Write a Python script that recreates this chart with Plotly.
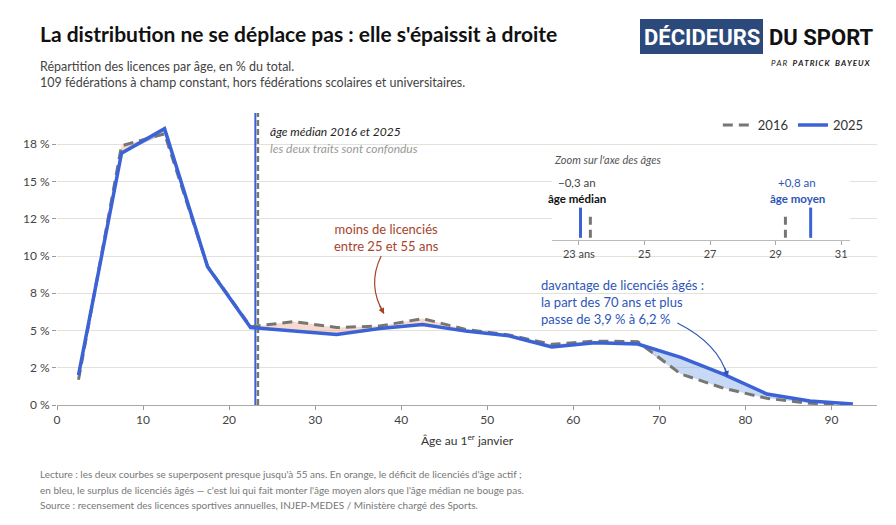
import plotly.graph_objects as go

# tranches d'âge (milieu de classe quinquennale)
ages = [2.5, 7.5, 12.5, 17.5, 22.5, 27.5, 32.5, 37.5, 42.5, 47.5,
        52.5, 57.5, 62.5, 67.5, 72.5, 77.5, 82.5, 87.5, 92.5]
part_2016 = [1.7, 17.4, 18.2, 9.3, 5.25, 5.6, 5.2, 5.3, 5.8, 5.07,
             4.7, 4.07, 4.29, 4.25, 2.08, 1.12, 0.45, 0.11, 0.05]
part_2025 = [2.0, 16.9, 18.55, 9.28, 5.2, 4.96, 4.74, 5.14, 5.41, 4.96,
             4.65, 3.89, 4.18, 4.09, 3.2, 2.06, 0.74, 0.27, 0.07]

median_2016 = 23.35
median_2025 = 23.05
mean_2016 = 29.3
mean_2025 = 30.07

y_tickvals = [0, 2.5, 5, 7.5, 10, 12.5, 15, 17.5]
y_ticktext = ["0 %", "2 %", "5 %", "8 %", "10 %", "12 %", "15 %", "18 %"]
x_tickvals = [0, 10, 20, 30, 40, 50, 60, 70, 80, 90]
zoom_tickvals = [23, 25, 27, 29, 31]
zoom_ticktext = ["23 ans", "25", "27", "29", "31"]

footer_lines = [
    "Lecture : les deux courbes se superposent presque jusqu'à 55 ans. En orange, le déficit de licenciés d'âge actif ;",
    "en bleu, le surplus de licenciés âgés — c'est lui qui fait monter l'âge moyen alors que l'âge médian ne bouge pas.",
    "Source : recensement des licences sportives annuelles, INJEP-MEDES / Ministère chargé des Sports.",
]

BLUE = "#3b63d6"
GREY = "#777772"
RUST = "#a8432b"
DARKBLUE = "#2d56b8"
FONT = "Lato, 'Noto Sans', sans-serif"
LOGO_FONT = "Roboto, 'Open Sans', sans-serif"

# page body has an 8px margin -> figure is drawn 8px right/down
OFF = 8

# pixel (page) -> paper helpers (plot area 57..877 x 113..405)
def px(x):
    return (x - 57) / 820.0

def py(y):
    return (405 - y) / 292.0

low = [min(a, b) for a, b in zip(part_2016, part_2025)]

fig = go.Figure()

# zones colorées
fig.add_trace(go.Scatter(x=ages, y=low, mode="lines", line=dict(width=0),
                         showlegend=False, hoverinfo="skip"))
fig.add_trace(go.Scatter(x=ages, y=part_2016, mode="lines", line=dict(width=0),
                         fill="tonexty", fillcolor="rgba(240,170,145,0.45)",
                         showlegend=False, hoverinfo="skip"))
fig.add_trace(go.Scatter(x=ages, y=low, mode="lines", line=dict(width=0),
                         showlegend=False, hoverinfo="skip"))
fig.add_trace(go.Scatter(x=ages, y=part_2025, mode="lines", line=dict(width=0),
                         fill="tonexty", fillcolor="rgba(110,155,230,0.38)",
                         showlegend=False, hoverinfo="skip"))

# médianes (axe principal)
fig.add_trace(go.Scatter(x=[median_2016, median_2016], y=[0, 19.6], mode="lines",
                         line=dict(color=GREY, width=2.5, dash="6px,3px"),
                         showlegend=False, hoverinfo="skip"))
fig.add_trace(go.Scatter(x=[median_2025, median_2025], y=[0, 19.6], mode="lines",
                         line=dict(color=BLUE, width=2),
                         showlegend=False, hoverinfo="skip"))

# courbes
fig.add_trace(go.Scatter(x=ages, y=part_2016, mode="lines", name="2016",
                         line=dict(color=GREY, width=3, dash="10px,6px")))
fig.add_trace(go.Scatter(x=ages, y=part_2025, mode="lines", name="2025",
                         line=dict(color=BLUE, width=3.5)))

# encart zoom
fig.add_trace(go.Scatter(x=[median_2025, median_2025], y=[0.03, 0.45], mode="lines",
                         line=dict(color=BLUE, width=3), xaxis="x2", yaxis="y2",
                         showlegend=False, hoverinfo="skip"))
fig.add_trace(go.Scatter(x=[median_2016, median_2016], y=[0.03, 0.36], mode="lines",
                         line=dict(color=GREY, width=3, dash="8px,5px"), xaxis="x2", yaxis="y2",
                         showlegend=False, hoverinfo="skip"))
fig.add_trace(go.Scatter(x=[mean_2016, mean_2016], y=[0.03, 0.36], mode="lines",
                         line=dict(color=GREY, width=3, dash="8px,5px"), xaxis="x2", yaxis="y2",
                         showlegend=False, hoverinfo="skip"))
fig.add_trace(go.Scatter(x=[mean_2025, mean_2025], y=[0.03, 0.45], mode="lines",
                         line=dict(color=BLUE, width=3), xaxis="x2", yaxis="y2",
                         showlegend=False, hoverinfo="skip"))

fig.update_layout(
    width=896 - OFF, height=525 - OFF,
    margin=dict(l=57 - OFF, r=19, t=113 - OFF, b=120),
    paper_bgcolor="white", plot_bgcolor="white",
    font=dict(family=FONT, size=12, color="#444"),
    showlegend=True,
    legend=dict(orientation="h", x=0.99, xanchor="right", y=py(125), yanchor="middle",
                font=dict(size=13, color="#333"), bgcolor="rgba(0,0,0,0)",
                traceorder="normal", itemwidth=30),
    xaxis=dict(range=[0, 95.3], tickvals=x_tickvals, ticks="outside", ticklen=4,
               tickcolor="#999", showline=True, linecolor="#aaa", linewidth=1,
               showgrid=False, zeroline=False, tickfont=dict(size=12, color="#444")),
    yaxis=dict(range=[0, 19.6], tickvals=y_tickvals, ticktext=y_ticktext,
               ticks="outside", ticklen=4, tickcolor="#999", showline=False,
               showgrid=True, gridcolor="#e4e1d9", gridwidth=1, zeroline=False,
               tickfont=dict(size=12, color="#444")),
    xaxis2=dict(domain=[px(552), px(850)], anchor="y2", range=[22.18, 31.27],
                tickvals=zoom_tickvals, ticktext=zoom_ticktext, ticks="outside",
                ticklen=4, tickcolor="#aaa", showline=True, linecolor="#bbb",
                showgrid=False, zeroline=False, tickfont=dict(size=11, color="#444")),
    yaxis2=dict(domain=[py(240), py(168)], anchor="x2", range=[0, 1], visible=False),
)

# fond de l'encart
fig.add_shape(type="rect", xref="x2 domain", yref="y2 domain", x0=0, x1=1, y0=0, y1=1,
              fillcolor="#f2f2ee", line=dict(width=0), layer="below")

# logo
fig.add_shape(type="rect", xref="paper", yref="paper", x0=px(640), x1=px(763),
              y0=py(54), y1=py(19), fillcolor="#2b4a7b", line=dict(width=0))

ann = [
    dict(x=px(38), y=py(34), text="<b>La distribution ne se déplace pas : elle s'épaissit à droite</b>",
         xanchor="left", yanchor="middle", font=dict(size=21, color="#111")),
    dict(x=px(38), y=py(57), text="Répartition des licences par âge, en % du total.<br>"
         "109 fédérations à champ constant, hors fédérations scolaires et universitaires.",
         xanchor="left", yanchor="top", align="left", font=dict(size=12.5, color="#444")),
    dict(x=px(701.5), y=py(37), text="<b>DÉCIDEURS</b>", xanchor="center", yanchor="middle",
         font=dict(size=22, color="white", family=LOGO_FONT)),
    dict(x=px(767), y=py(37), text="<b>DU SPORT</b>", xanchor="left", yanchor="middle",
         font=dict(size=22, color="#111", family=LOGO_FONT)),
    dict(x=px(872), y=py(63), text="<i>P\u2009A\u2009R\u2003<b>P\u2009A\u2009T\u2009R\u2009I\u2009C\u2009K\u2003B\u2009A\u2009Y\u2009E\u2009U\u2009X</b></i>",
         xanchor="right", yanchor="middle", font=dict(size=8, color="#222")),
    dict(x=px(268), y=py(131), text="<i>âge médian 2016 et 2025</i>", xanchor="left", yanchor="middle",
         font=dict(size=12, color="#222")),
    dict(x=px(268), y=py(148), text="<i>les deux traits sont confondus</i>", xanchor="left",
         yanchor="middle", font=dict(size=12, color="#999")),
    dict(x=px(386), y=py(237), text="moins de licenciés<br>entre 25 et 55 ans", xanchor="center",
         yanchor="middle", align="center", font=dict(size=13, color=RUST)),
    dict(x=px(539), y=py(302), text="davantage de licenciés âgés :<br>la part des 70 ans et plus<br>passe de 3,9 % à 6,2 %",
         xanchor="left", yanchor="middle", align="left", font=dict(size=13, color=DARKBLUE)),
    dict(x=px(552), y=py(159), text="<i>Zoom sur l'axe des âges</i>", xanchor="left", yanchor="middle",
         font=dict(size=11, color="#555")),
    dict(x=22.95, y=0.805, xref="x2", yref="y2", text="−0,3 an", xanchor="center", yanchor="middle",
         font=dict(size=11.5, color="#444")),
    dict(x=22.95, y=0.58, xref="x2", yref="y2", text="<b>âge médian</b>", xanchor="center",
         yanchor="middle", font=dict(size=11.5, color="#111")),
    dict(x=29.66, y=0.805, xref="x2", yref="y2", text="+0,8 an", xanchor="center", yanchor="middle",
         font=dict(size=11.5, color=DARKBLUE)),
    dict(x=29.66, y=0.58, xref="x2", yref="y2", text="<b>âge moyen</b>", xanchor="center",
         yanchor="middle", font=dict(size=11.5, color=DARKBLUE)),
    dict(x=0.5, y=py(440), text="Âge au 1<sup>er</sup> janvier", xanchor="center", yanchor="middle",
         font=dict(size=12, color="#333")),
]
for i, line in enumerate(footer_lines):
    ann.append(dict(x=px(38), y=py(474 + 15.5 * i), text=line, xanchor="left", yanchor="middle",
                    font=dict(size=10, color="#777")))

for a in ann:
    a.setdefault("xref", "paper")
    a.setdefault("yref", "paper")
    a["showarrow"] = False
    fig.add_annotation(**a)

# flèches courbes
fig.add_shape(type="path", xref="x", yref="y", path="M 37.67,10.0 Q 36.0,8.0 38.0,6.15",
              line=dict(color=RUST, width=1.2))
fig.add_annotation(x=38.0, y=6.1, ax=-5, ay=-10, text="", showarrow=True, arrowhead=2,
                   arrowsize=1, arrowwidth=1.2, arrowcolor=RUST)
fig.add_shape(type="path", xref="x", yref="y", path="M 72.1,5.5 Q 76.9,4.1 77.9,1.95",
              line=dict(color=DARKBLUE, width=1.2))
fig.add_annotation(x=77.95, y=1.88, ax=-3, ay=-10, text="", showarrow=True, arrowhead=2,
                   arrowsize=1, arrowwidth=1.2, arrowcolor=DARKBLUE)

fig.write_html("out.html")
